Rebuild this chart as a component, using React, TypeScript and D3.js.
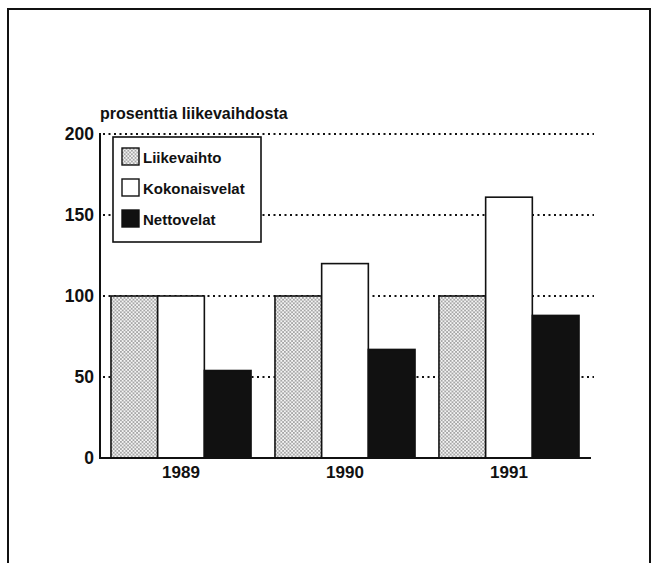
import React from 'react';
import * as d3 from 'd3';

const years = ['1989', '1990', '1991'];
const seriesNames = ['Liikevaihto', 'Kokonaisvelat', 'Nettovelat'];
const liikevaihto = [100, 100, 100];
const kokonaisvelat = [100, 120, 161];
const nettovelat = [54, 67, 88];
const yTicks = [0, 50, 100, 150, 200];
const gridTicks = [50, 100, 150, 200];

const W = 652;
const H = 563;
const FONT = '"Liberation Sans", Arial, Helvetica, sans-serif';

export default function App(): JSX.Element {
  const x = d3.scaleBand<string>().domain(years).range([100, 590]).paddingInner(0.146).paddingOuter(0.067);
  const xs = d3.scaleBand<string>().domain(seriesNames).range([0, x.bandwidth()]);
  const y = d3.scaleLinear().domain([0, 200]).range([458, 134]);

  const values = [liikevaihto, kokonaisvelat, nettovelat];
  const fills = ['url(#stipple)', '#ffffff', '#111111'];

  // legend sits on top of the grid, top-left of the plot
  const legX = 113;
  const legY = 137;

  return (
    <svg width={W} height={H} style={{ display: 'block', position: 'absolute', left: 0, top: 0 }}>
      <defs>
        <pattern id="stipple" width={3.6} height={3.6} patternUnits="userSpaceOnUse">
          <rect width={3.6} height={3.6} fill="#f4f4f4" />
          <circle cx={0.9} cy={0.9} r={0.75} fill="#444" />
          <circle cx={2.7} cy={2.7} r={0.75} fill="#444" />
        </pattern>
      </defs>
      <rect x={0} y={0} width={W} height={H} fill="#ffffff" />
      {/* outer frame */}
      <rect x={8} y={9} width={642} height={620} fill="none" stroke="#111" strokeWidth={2} />

      {/* dotted grid */}
      {gridTicks.map((t) => (
        <line
          key={t}
          x1={103}
          x2={594}
          y1={y(t)}
          y2={y(t)}
          stroke="#111"
          strokeWidth={2}
          strokeDasharray="2,3.5"
        />
      ))}

      {/* bars */}
      {years.map((yr, i) => (
        <g key={yr} transform={`translate(${x(yr)},0)`}>
          {seriesNames.map((s, j) => (
            <rect
              key={s}
              x={xs(s)}
              y={y(values[j][i])}
              width={xs.bandwidth()}
              height={y(0) - y(values[j][i])}
              fill={fills[j]}
              stroke="#111"
              strokeWidth={1.6}
            />
          ))}
          <text
            x={x.bandwidth() / 2}
            y={478}
            textAnchor="middle"
            fontFamily={FONT}
            fontWeight="bold"
            fontSize={17}
            fill="#111"
          >
            {yr}
          </text>
        </g>
      ))}

      {/* axes */}
      <line x1={100} x2={100} y1={133} y2={459} stroke="#111" strokeWidth={2} />
      <line x1={99} x2={591} y1={y(0)} y2={y(0)} stroke="#111" strokeWidth={2} />
      {yTicks.map((t) => (
        <text
          key={t}
          x={94}
          y={y(t) + 6}
          textAnchor="end"
          fontFamily={FONT}
          fontWeight="bold"
          fontSize={17.5}
          fill="#111"
        >
          {t}
        </text>
      ))}

      <text x={100} y={119} fontFamily={FONT} fontWeight="bold" fontSize={16} fill="#111">
        prosenttia liikevaihdosta
      </text>

      {/* legend */}
      <rect x={legX} y={legY} width={148} height={105} fill="#ffffff" stroke="#111" strokeWidth={1.6} />
      {seriesNames.map((s, j) => (
        <g key={s} transform={`translate(${legX + 9},${legY + 11 + j * 31})`}>
          <rect width={17} height={17} fill={fills[j]} stroke="#111" strokeWidth={1.4} />
          <text x={21} y={15} fontFamily={FONT} fontWeight="bold" fontSize={15} fill="#111">
            {s}
          </text>
        </g>
      ))}
    </svg>
  );
}
